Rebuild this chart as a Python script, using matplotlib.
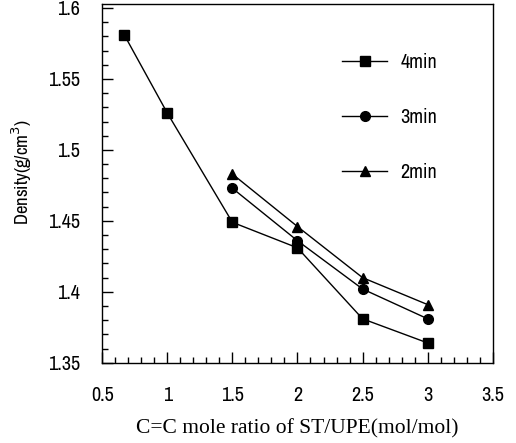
import matplotlib
matplotlib.use("Agg")
import matplotlib.pyplot as plt
from matplotlib.ticker import MultipleLocator
from matplotlib import font_manager
from matplotlib.legend_handler import HandlerLine2D
import numpy as np

x4 = [0.67, 1.0, 1.5, 2.0, 2.5, 3.0]
y4 = [1.581, 1.526, 1.449, 1.431, 1.381, 1.364]
x3 = [1.5, 2.0, 2.5, 3.0]
y3 = [1.473, 1.436, 1.402, 1.381]
x2 = [1.5, 2.0, 2.5, 3.0]
y2 = [1.483, 1.446, 1.410, 1.391]
labels = ["4min", "3min", "2min"]
xticks = [0.5, 1, 1.5, 2, 2.5, 3, 3.5]
yticks = [1.35, 1.4, 1.45, 1.5, 1.55, 1.6]

names = {f.name for f in font_manager.fontManager.ttflist}
narrow = 'Liberation Sans'
for cand in ['Liberation Sans Narrow', 'Archivo Narrow', 'PT Sans Narrow', 'Roboto Condensed', 'Arimo']:
    if cand in names:
        narrow = cand
        break
plt.rcParams['font.family'] = [narrow, 'DejaVu Sans']


class RightMarkerHandler(HandlerLine2D):
    def get_xdata(self, legend, xdescent, ydescent, width, height, fontsize):
        xdata, _ = super().get_xdata(legend, xdescent, ydescent, width, height, fontsize)
        return xdata, np.array([-xdescent + width * 0.56])


fig = plt.figure(figsize=(5.16, 4.43), dpi=100)
ax = fig.add_axes([0.198, 0.181, 0.757, 0.810])

ax.plot(x4, y4, color='black', lw=1.0, marker='s', ms=7, label=labels[0])
ax.plot(x3, y3, color='black', lw=1.0, marker='o', ms=7, label=labels[1])
ax.plot(x2, y2, color='black', lw=1.0, marker='^', ms=7, label=labels[2])

ax.set_xlim(0.5, 3.5)
ax.set_ylim(1.35, 1.6028)
ax.set_xticks(xticks)
ax.set_xticklabels([str(t) for t in xticks])
ax.set_yticks(yticks)
ax.set_yticklabels([f"{t:g}" for t in yticks])
ax.xaxis.set_minor_locator(MultipleLocator(0.1))
ax.yaxis.set_minor_locator(MultipleLocator(0.01))
ax.tick_params(which='both', direction='in', top=False, right=False, labelsize=14.5)
ax.tick_params(which='major', length=8, width=1)
ax.tick_params(which='minor', length=4, width=1)
ax.tick_params(axis='x', which='major', pad=17)
ax.tick_params(axis='y', which='major', pad=16)
for lab in ax.get_xticklabels() + ax.get_yticklabels():
    lab.set_fontweight('semibold')
for s in ax.spines.values():
    s.set_linewidth(1.0)

ax.set_xlabel("C=C mole ratio of ST/UPE(mol/mol)", family='Liberation Serif', fontsize=15.5)
ax.xaxis.set_label_coords(0.5, -0.158)
ax.set_ylabel("Density(g/cm$^3$)", fontsize=13.5)
ax.yaxis.set_label_coords(-0.175, 0.532)

ax.legend(loc='upper left', bbox_to_anchor=(0.568, 0.914), frameon=False, numpoints=1,
          handlelength=2.24, labelspacing=1.8, handletextpad=0.65,
          handler_map={plt.Line2D: RightMarkerHandler()},
          prop={'family': narrow, 'size': 14.5, 'weight': 'semibold'})

fig.savefig("out.png", dpi=100)
